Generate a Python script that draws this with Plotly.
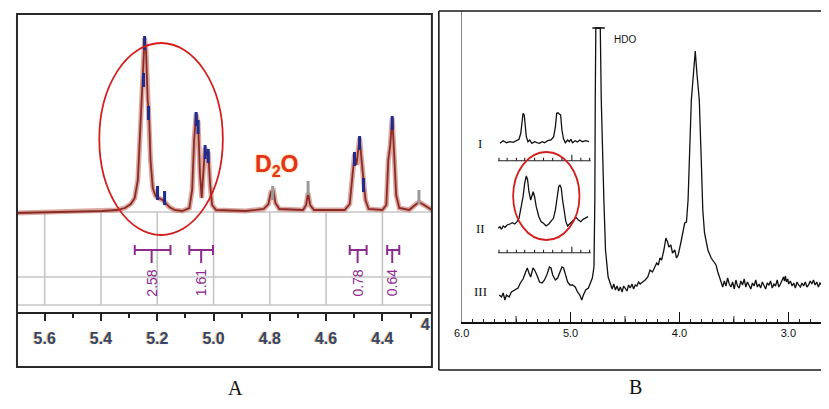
import plotly.graph_objects as go

# page is 829x409; the plot div sits 8px inside the page (default body margin)
PAGE_W, PAGE_H, OFF = 829, 409, 8
W, H = PAGE_W - OFF, PAGE_H - OFF


def fx(p):
    return (p - OFF) / W


def fy(p):
    return 1 - (p - OFF) / H


# ---------------- Panel A data (ppm, intensity above baseline) ----------------
a_ppm = [5.702, 5.519, 5.396, 5.343, 5.315, 5.294, 5.280, 5.269, 5.262, 5.255, 5.250,
         5.245, 5.240, 5.234, 5.229, 5.224, 5.216, 5.206, 5.195, 5.181, 5.167, 5.157,
         5.139, 5.111, 5.086, 5.076, 5.069, 5.062, 5.058, 5.055, 5.048, 5.042, 5.037,
         5.030, 5.025, 5.019, 5.012, 5.005, 4.991, 4.886, 4.822, 4.805, 4.796, 4.787,
         4.780, 4.766, 4.682, 4.671, 4.664, 4.657, 4.643, 4.534, 4.516, 4.506, 4.499,
         4.492, 4.481, 4.474, 4.467, 4.460, 4.449, 4.400, 4.386, 4.379, 4.372, 4.365,
         4.358, 4.351, 4.340, 4.305, 4.288, 4.270, 4.252, 4.224]
a_int = [-3, -2, -1, 0, 2, 6, 12, 30, 70, 120, 140,
         172, 160, 110, 95, 50, 22, 14, 12, 10, 6, 3,
         0, -1, 2, 20, 70, 96, 90, 88, 35, 12, 35,
         62, 55, 58, 25, 5, 0, -1, 1, 6, 18, 19,
         7, 1, 0, 5, 17, 5, 0, 0, 6, 35, 56,
         45, 72, 50, 30, 10, 1, 0, 5, 50, 65, 92,
         55, 15, 2, 0, 4, 8, 5, 0]

# peak-pick markers (ppm, top intensity)
blue_ppm = [5.245, 5.249, 5.231, 5.199, 5.174, 5.062, 5.055, 5.030, 5.019, 4.499, 4.481, 4.467, 4.365]
blue_top = [172, 135, 102, 22, 17, 96, 88, 63, 59, 56, 72, 30, 92]
gray_ppm = [4.790, 4.664, 4.270]
gray_top = [22, 27, 18]

# integrals
int_start = [5.280, 5.086, 4.516, 4.383]
int_end = [5.153, 5.002, 4.456, 4.340]
int_stem = [5.220, 5.044, 4.488, 4.365]
int_labels = ["2.58", "1.61", "0.78", "0.64"]

a_ticks = [5.6, 5.4, 5.2, 5.0, 4.8, 4.6, 4.4]
a_ticklabels = ["5.6", "5.4", "5.2", "5.0", "4.8", "4.6", "4.4"]
a_minor = [5.7, 5.5, 5.3, 5.1, 4.9, 4.7, 4.5, 4.3]
a_cut_label = "4.2"

# ---------------- Panel B data ----------------
b_ppm = [5.655, 5.634, 5.618, 5.603, 5.588, 5.564, 5.543, 5.512, 5.482, 5.461, 5.436,
         5.412, 5.397, 5.382, 5.366, 5.345, 5.330, 5.309, 5.285, 5.261, 5.239, 5.218,
         5.194, 5.179, 5.164, 5.139, 5.118, 5.097, 5.079, 5.064, 5.048, 5.027, 5.006,
         4.982, 4.957, 4.936, 4.915, 4.897, 4.882, 4.861, 4.836, 4.815, 4.800, 4.785,
         4.777, 4.773, 4.768, 4.727, 4.718, 4.694, 4.679, 4.655, 4.634, 4.618, 4.603,
         4.588, 4.573, 4.558, 4.543, 4.527, 4.512, 4.497, 4.482, 4.467, 4.452, 4.436,
         4.421, 4.406, 4.391, 4.376, 4.361, 4.339, 4.315, 4.291, 4.270,
         4.248, 4.230, 4.209, 4.194, 4.179, 4.164, 4.143, 4.125, 4.109, 4.097, 4.079,
         4.064, 4.043, 4.027, 4.012, 3.988, 3.966, 3.952, 3.936, 3.921, 3.891, 3.868,
         3.855, 3.841, 3.818, 3.800, 3.786, 3.770, 3.755, 3.739, 3.709, 3.679, 3.664,
         3.648, 3.625, 3.603, 3.588, 3.573, 3.558, 3.543, 3.527, 3.512, 3.497, 3.482,
         3.467, 3.452, 3.436, 3.421, 3.406, 3.391, 3.376, 3.361, 3.345, 3.330, 3.315,
         3.300, 3.285, 3.270, 3.255, 3.239, 3.224, 3.209, 3.194, 3.179, 3.164, 3.148,
         3.133, 3.118, 3.103, 3.088, 3.073, 3.057, 3.045, 3.036, 3.027, 3.018, 3.006,
         2.997, 2.982, 2.966, 2.951, 2.936, 2.921, 2.906, 2.890, 2.875, 2.860, 2.845,
         2.830, 2.815, 2.800, 2.785, 2.770, 2.755, 2.740, 2.725, 2.710, 2.694, 2.679,
         2.664, 2.645, 2.627]
b_int = [27, 25, 29, 22, 27, 25, 30, 32, 34, 39, 43,
         50, 54, 49, 45, 54, 52, 47, 40, 39, 42, 47,
         55, 54, 47, 42, 44, 50, 55, 54, 47, 40, 37,
         37, 35, 30, 27, 22, 27, 32, 34, 39, 44, 55,
         122, 222, 294, 294, 222, 122, 72, 45, 37, 33, 38,
         32, 36, 31, 35, 30, 36, 33, 31, 37, 34, 38,
         33, 37, 36, 40, 38, 40, 42, 45, 52,
         50, 55, 59, 57, 64, 62, 72, 84, 80, 75, 77,
         69, 72, 64, 67, 79, 92, 99, 100, 122, 222, 252,
         271, 250, 222, 162, 112, 89, 79, 72, 64, 60, 57,
         50, 42, 35, 41, 36, 44, 38, 35, 40, 33, 42,
         36, 34, 41, 37, 43, 35, 40, 37, 33, 39, 36,
         42, 35, 38, 34, 40, 36, 33, 39, 37, 41, 34,
         38, 36, 42, 35, 38, 42, 45, 41, 46, 40, 43,
         38, 41, 36, 39, 34, 40, 37, 35, 39, 36, 40,
         35, 37, 41, 38, 42, 37, 40, 35, 39, 37, 41,
         34, 38, 36]

ins1_ppm = [5.648, 5.618, 5.588, 5.557, 5.527, 5.497, 5.473, 5.457, 5.445, 5.436, 5.425,
            5.415, 5.406, 5.391, 5.375, 5.355, 5.330, 5.309, 5.285, 5.261, 5.239, 5.209,
            5.179, 5.155, 5.139, 5.127, 5.115, 5.103, 5.091, 5.079, 5.066, 5.048, 5.027,
            5.012, 4.997, 4.982, 4.957, 4.936, 4.915, 4.891, 4.861, 4.830]
ins1_int = [178.7, 181.3, 179.3, 180.3, 179.7, 181.3, 182.7, 188.7, 202, 208.7, 207,
            195.3, 185.3, 180.3, 182, 178.7, 180.3, 179.3, 178.7, 180.3, 179.3, 181.3,
            182, 185.3, 195.3, 208.7, 209.3, 208, 207, 192, 183.7, 179.3, 182,
            180.3, 182.7, 179.3, 181.3, 180, 182, 180.3, 181.3, 180.3]

ins2_ppm = [5.664, 5.648, 5.634, 5.618, 5.603, 5.582, 5.557, 5.534, 5.512, 5.491, 5.473,
            5.452, 5.436, 5.421, 5.406, 5.394, 5.382, 5.366, 5.355, 5.343, 5.330, 5.315,
            5.291, 5.270, 5.248, 5.225, 5.200, 5.179, 5.157, 5.139, 5.125, 5.109, 5.097,
            5.085, 5.073, 5.057, 5.043, 5.027, 5.012, 4.988, 4.966, 4.952, 4.927, 4.906,
            4.885, 4.861, 4.839]
ins2_int = [93.7, 95.3, 92.7, 96, 94.7, 97, 98, 99.3, 98, 100.3, 103.7,
            115.3, 125.3, 138.7, 146, 142, 130.3, 122, 125.3, 130.3, 125.3, 115.3,
            105.3, 100.3, 98.7, 96, 98, 100.3, 103.7, 112, 125.3, 135.3, 137,
            133.7, 122, 108.7, 100.3, 96, 98, 100.3, 102.7, 104.7, 102, 100.3,
            102.7, 103.7, 105.3]

scale_start, scale_end = 5.664, 4.815
scale_ticks = [5.657, 5.582, 5.497, 5.421, 5.330, 5.248, 5.164, 5.079, 4.988, 4.906, 4.825]
scale_long = [4.988]
scale_levels = [161.3, 69.3]

b_ticks = [6.0, 5.0, 4.0, 3.0]
b_ticklabels = ["6.0", "5.0", "4.0", "3.0"]
b_mid = [5.5, 4.5, 3.5]
b_minor = [round(6.0 - 0.1 * i, 1) for i in range(1, 34)]

hdo_ppm, hdo_top = 4.745, 294

# ---------------- Figure ----------------
fig = go.Figure()

# Panel A spectrum (halo + core)
fig.add_trace(go.Scatter(x=a_ppm, y=a_int, mode="lines", xaxis="x", yaxis="y",
                         line=dict(color="rgba(205,140,130,0.75)", width=5), hoverinfo="skip"))
fig.add_trace(go.Scatter(x=a_ppm, y=a_int, mode="lines", xaxis="x", yaxis="y",
                         line=dict(color="#8e2a26", width=1.8), hoverinfo="skip"))
# peak marks
fig.add_trace(go.Scatter(x=blue_ppm, y=[t - 5 for t in blue_top], mode="markers", xaxis="x", yaxis="y",
                         marker=dict(symbol="line-ns", size=10, line=dict(color="#1f2b8f", width=3))))
fig.add_trace(go.Scatter(x=gray_ppm, y=[t - 5 for t in gray_top], mode="markers", xaxis="x", yaxis="y",
                         marker=dict(symbol="line-ns", size=10, line=dict(color="#9a9a9a", width=3))))

# integrals
ix, iy = [], []
for s, e, m in zip(int_start, int_end, int_stem):
    ix += [s, e, None, s, s, None, e, e, None, m, m, None]
    iy += [-40, -40, None, -35, -45, None, -35, -45, None, -40, -53, None]
fig.add_trace(go.Scatter(x=ix, y=iy, mode="lines", xaxis="x", yaxis="y",
                         line=dict(color="#8e2a8e", width=2), hoverinfo="skip"))

# Panel B spectra
for xs, ys in [(b_ppm, b_int), (ins1_ppm, ins1_int), (ins2_ppm, ins2_int)]:
    fig.add_trace(go.Scatter(x=xs, y=ys, mode="lines", xaxis="x2", yaxis="y2",
                             line=dict(color="#111111", width=1.3), hoverinfo="skip"))
# inset scales
sx, sy = [], []
for lev in scale_levels:
    sx += [scale_start, scale_end, None]
    sy += [lev, lev, None]
    for t in scale_ticks:
        ln = 6 if t in scale_long else 3
        sx += [t, t, None]
        sy += [lev, lev + ln, None]
fig.add_trace(go.Scatter(x=sx, y=sy, mode="lines", xaxis="x2", yaxis="y2",
                         line=dict(color="#222222", width=1.1), hoverinfo="skip"))
# mid ticks on main B axis
mx, my = [], []
for t in b_mid:
    mx += [t, t, None]
    my += [0, 6, None]
fig.add_trace(go.Scatter(x=mx, y=my, mode="lines", xaxis="x2", yaxis="y2",
                         line=dict(color="#222222", width=1), hoverinfo="skip"))
# HDO cap
fig.add_trace(go.Scatter(x=[hdo_ppm + 0.055, hdo_ppm - 0.06], y=[hdo_top, hdo_top], mode="lines",
                         xaxis="x2", yaxis="y2", line=dict(color="#111111", width=1.3), hoverinfo="skip"))

shapes = []
# Panel A frame
shapes.append(dict(type="rect", xref="paper", yref="paper", x0=fx(9), x1=fx(428),
                   y0=fy(367), y1=fy(14), line=dict(color="#2a2a2a", width=2)))
# Panel B frame (open on the right: it runs off the page)
frame_b = dict(color="#1a1a1a", width=1.6)
shapes.append(dict(type="line", xref="paper", yref="paper", x0=fx(435), x1=1.0, y0=fy(11), y1=fy(11), line=frame_b))
shapes.append(dict(type="line", xref="paper", yref="paper", x0=fx(435), x1=1.0, y0=fy(370), y1=fy(370), line=frame_b))
shapes.append(dict(type="line", xref="paper", yref="paper", x0=fx(435), x1=fx(435), y0=fy(370), y1=fy(11), line=frame_b))
# Panel A grid (below baseline)
grid_col = "#c6c6c6"
for yv in [-2, -67, -95]:
    shapes.append(dict(type="line", xref="x", yref="y", x0=5.702, x1=4.224, y0=yv, y1=yv,
                       line=dict(color=grid_col, width=1.6), layer="below"))
for t in a_ticks:
    shapes.append(dict(type="line", xref="x", yref="y", x0=t, x1=t, y0=-2, y1=-95,
                       line=dict(color=grid_col, width=1.6), layer="below"))
# ellipses
shapes.append(dict(type="circle", xref="x", yref="y", x0=5.406, x1=4.967, y0=-25, y1=167,
                   line=dict(color="#d41e1e", width=1.8)))
shapes.append(dict(type="circle", xref="x2", yref="y2", x0=5.527, x1=4.918, y0=82, y1=170,
                   line=dict(color="#d41e1e", width=1.8)))

annotations = []
for m, lab in zip(int_stem, int_labels):
    annotations.append(dict(x=m, y=-73, xref="x", yref="y", text=lab, textangle=-90, showarrow=False,
                            font=dict(family="Liberation Sans", size=14, color="#8e2a8e")))
annotations.append(dict(x=4.777, y=44, xref="x", yref="y", text="<b>D<sub>2</sub>O</b>",
                        showarrow=False,
                        font=dict(family="Liberation Sans", size=23, color="#e4321f",
                                  shadow="0px 0px 2px #f2b630")))
annotations.append(dict(x=fx(428), y=fy(335), xref="paper", yref="paper", xanchor="right",
                        text="<b>" + a_cut_label[0] + "</b>", showarrow=False,
                        font=dict(family="Liberation Sans", size=16, color="#34466e",
                                  shadow="-1px 0px 1px #e8b850")))
annotations.append(dict(x=4.618, y=282, xref="x2", yref="y2", text="HDO", xanchor="left", showarrow=False,
                        font=dict(family="Liberation Sans", size=10, color="#111")))
for lab, yv in [("I", 179), ("II", 94), ("III", 31)]:
    annotations.append(dict(x=5.827, y=yv, xref="x2", yref="y2", text=lab, showarrow=False,
                            font=dict(family="Liberation Serif", size=13, color="#111")))
annotations.append(dict(x=4.273, y=-36, xref="x2", yref="y2", text="P. P. M.", showarrow=False,
                        font=dict(family="Liberation Sans", size=10, color="#111")))
annotations.append(dict(x=fx(220), y=fy(401), xref="paper", yref="paper", text="A", showarrow=False,
                        font=dict(family="Liberation Serif", size=20, color="#111")))
annotations.append(dict(x=fx(642), y=fy(400), xref="paper", yref="paper", text="B", showarrow=False,
                        font=dict(family="Liberation Serif", size=20, color="#111")))

fig.update_layout(
    width=W, height=H, margin=dict(l=0, r=0, t=0, b=0),
    paper_bgcolor="white", plot_bgcolor="white", showlegend=False,
    xaxis=dict(domain=[fx(8), fx(428)], range=[5.702, 4.224], anchor="y",
               showgrid=False, zeroline=False, showline=True, linecolor="#222", linewidth=2,
               ticks="outside", tickvals=a_ticks, ticktext=["<b>%s</b>" % t for t in a_ticklabels],
               ticklen=7, tickwidth=2, tickcolor="#222", ticklabelstandoff=4,
               tickfont=dict(family="Liberation Sans", size=16, color="#34466e",
                             shadow="-1px 0px 1px #e8b850"),
               minor=dict(tickvals=a_minor, ticks="outside", ticklen=4, tickwidth=2, tickcolor="#222")),
    yaxis=dict(domain=[fy(312), fy(14)], range=[-102, 196], visible=False, anchor="x"),
    xaxis2=dict(domain=[fx(458), 1.0], range=[6.0, 6.0 - (PAGE_W - 458) / 110], anchor="y2",
                showgrid=False, zeroline=False, showline=True, linecolor="#111", linewidth=1.5,
                ticks="inside", tickvals=b_ticks, ticktext=b_ticklabels, ticklen=10, tickwidth=1,
                tickcolor="#111", tickfont=dict(family="Liberation Sans", size=11, color="#111"),
                minor=dict(tickvals=b_minor, ticks="inside", ticklen=3.5, tickwidth=1, tickcolor="#222")),
    yaxis2=dict(domain=[fy(322), fy(11)], range=[0, 311], anchor="x2",
                showgrid=False, zeroline=False, showline=True, linecolor="#888", linewidth=1,
                showticklabels=False, ticks=""),
    shapes=shapes, annotations=annotations,
)

fig.write_html("out.html")
